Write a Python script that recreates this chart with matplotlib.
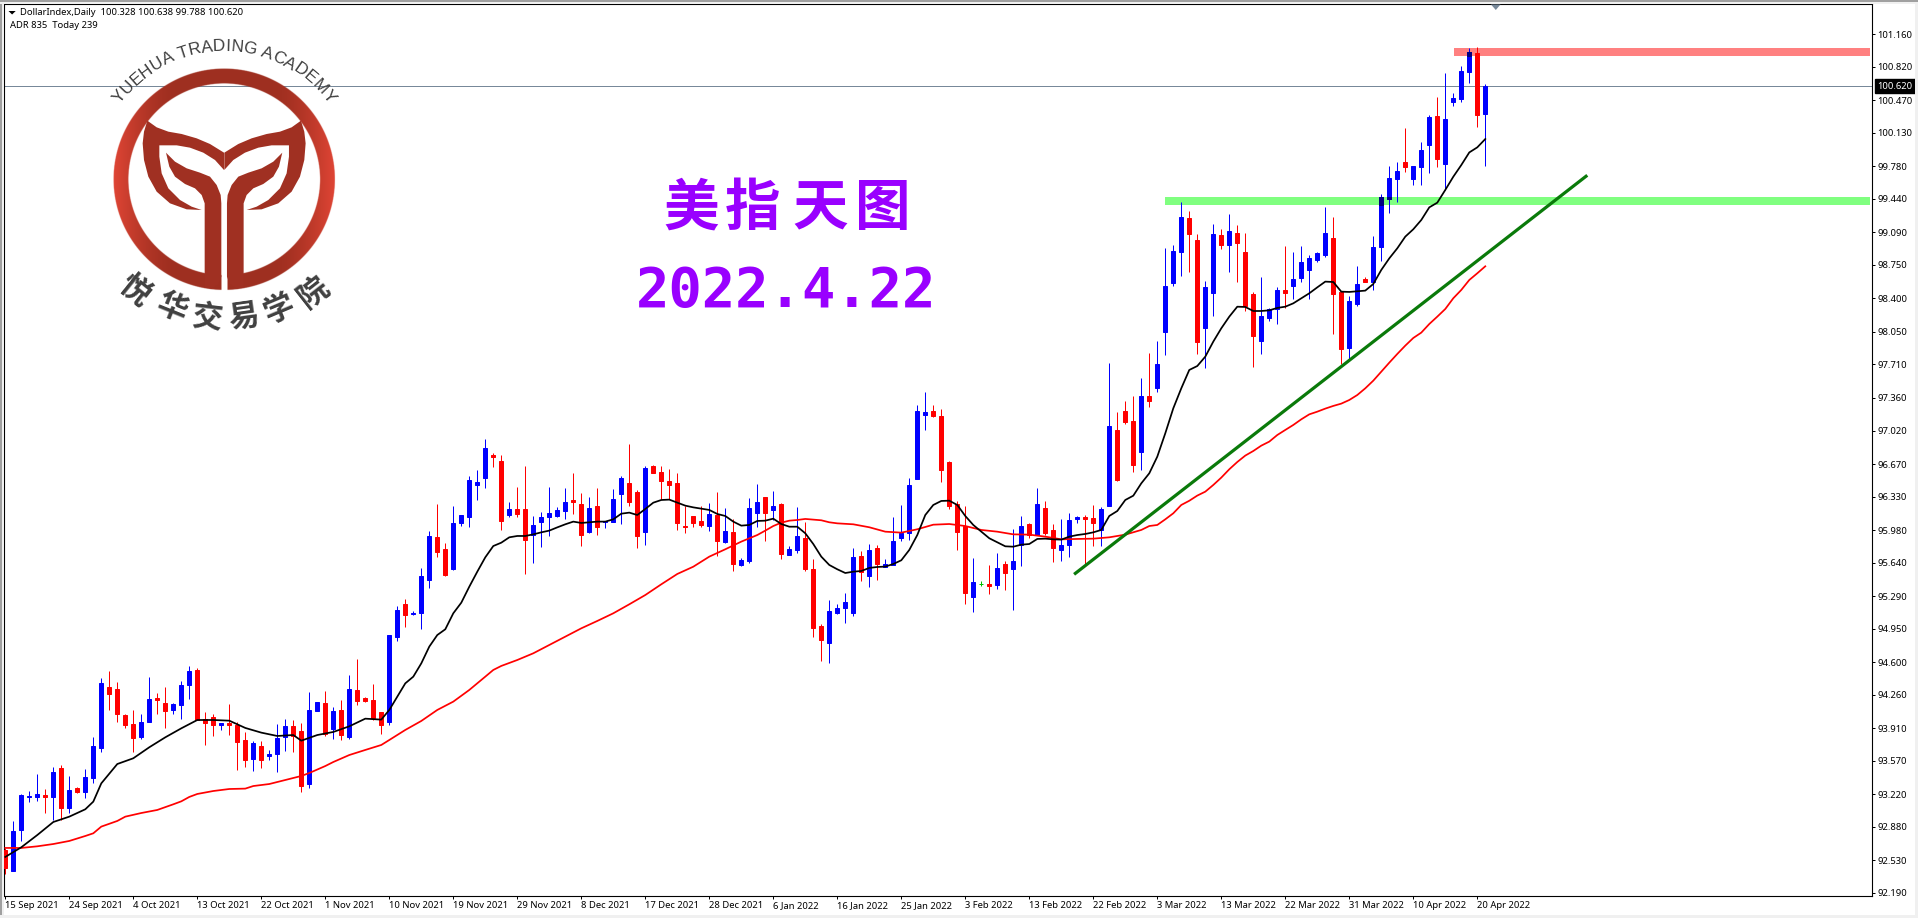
import numpy as np
import matplotlib
matplotlib.use('Agg')
import matplotlib.pyplot as plt
from matplotlib.font_manager import FontProperties
from matplotlib.patches import Polygon, Rectangle
from matplotlib.textpath import TextToPath

opens = [92.637, 92.421, 92.846, 93.194, 93.191, 93.211, 93.191, 93.494, 93.076, 93.285,
         93.243, 93.389, 93.703, 94.340, 94.319, 94.047, 93.953, 93.817, 93.974, 94.225,
         94.173, 94.100, 94.152, 94.361, 94.518, 94.006, 94.026, 93.943, 93.964, 93.943,
         93.786, 93.588, 93.723, 93.619, 93.640, 93.817, 93.932, 93.880, 93.326, 94.089,
         94.173, 93.901, 94.100, 93.817, 94.309, 94.225, 94.204, 94.079, 93.974, 94.862,
         95.207, 95.106, 95.113, 95.458, 95.907, 95.782, 95.573, 96.054, 96.116, 96.451,
         96.524, 96.764, 96.702, 96.137, 96.200, 96.200, 95.928, 96.064, 96.116, 96.127,
         96.179, 96.294, 96.252, 95.960, 96.231, 96.064, 96.064, 96.357, 96.472, 96.378,
         95.960, 96.649, 96.587, 96.493, 96.472, 96.022, 96.127, 96.075, 96.022, 96.137,
         95.855, 95.960, 95.615, 95.657, 96.158, 96.325, 96.190, 96.252, 95.719, 95.772,
         95.897, 95.573, 94.978, 94.800, 95.113, 95.166, 95.113, 95.709, 95.500, 95.793,
         95.594, 95.615, 95.897, 95.949, 96.514, 97.182, 97.224, 97.172, 96.691, 96.252,
         96.022, 95.281, 95.420, 95.416, 95.406, 95.625, 95.573, 95.824, 96.043, 95.928,
         96.211, 95.981, 95.772, 95.824, 96.096, 96.117, 96.106, 95.981, 96.231, 97.026,
         97.224, 97.120, 96.796, 97.381, 97.465, 98.050, 98.562, 98.886, 99.241, 99.011,
         98.092, 98.457, 99.063, 98.959, 99.084, 98.886, 98.447, 97.956, 98.196, 98.290,
         98.489, 98.530, 98.614, 98.698, 98.802, 98.854, 99.032, 98.468, 97.883, 98.342,
         98.604, 98.572, 98.938, 99.439, 99.648, 99.825, 99.648, 99.773, 100.003, 100.306,
         99.804, 100.452, 100.484, 100.766, 100.964, 100.328]

closes = [92.445, 92.835, 93.211, 93.204, 93.222, 93.191, 93.452, 93.076, 93.264, 93.243,
          93.400, 93.723, 94.382, 94.267, 94.058, 93.943, 93.807, 93.974, 94.215, 94.204,
          94.089, 94.162, 94.361, 94.507, 93.995, 93.964, 93.943, 93.964, 93.943, 93.765,
          93.577, 93.755, 93.577, 93.640, 93.807, 93.932, 93.828, 93.305, 94.100, 94.183,
          93.849, 94.089, 93.838, 94.319, 94.194, 94.194, 94.016, 93.943, 94.883, 95.144,
          95.092, 95.117, 95.500, 95.918, 95.751, 95.510, 96.054, 96.137, 96.503, 96.482,
          96.837, 96.743, 96.075, 96.200, 96.148, 95.876, 96.033, 96.116, 96.158, 96.190,
          96.273, 96.273, 95.928, 96.210, 96.012, 96.075, 96.305, 96.524, 96.273, 95.918,
          96.628, 96.576, 96.493, 96.451, 96.054, 96.012, 96.054, 96.033, 96.148, 95.866,
          95.970, 95.625, 95.667, 96.210, 96.273, 96.158, 96.231, 95.730, 95.782, 95.918,
          95.573, 94.957, 94.831, 95.134, 95.166, 95.228, 95.699, 95.542, 95.772, 95.625,
          95.625, 95.866, 95.949, 96.451, 97.224, 97.214, 97.172, 96.608, 96.231, 95.960,
          95.322, 95.437, 95.420, 95.395, 95.584, 95.531, 95.657, 96.022, 95.928, 96.252,
          95.949, 95.793, 95.824, 96.085, 96.117, 96.096, 96.054, 96.200, 97.068, 96.503,
          97.109, 96.660, 97.381, 97.329, 97.715, 98.530, 98.896, 99.251, 99.074, 97.945,
          98.520, 99.074, 98.959, 99.105, 98.980, 98.321, 98.008, 98.217, 98.290, 98.489,
          98.457, 98.604, 98.781, 98.823, 98.875, 99.084, 98.447, 97.872, 98.374, 98.551,
          98.572, 98.938, 99.460, 99.658, 99.731, 99.773, 99.783, 99.951, 100.295, 99.857,
          100.275, 100.494, 100.776, 100.975, 100.316, 100.620]

highs = [92.661, 92.940, 93.222, 93.253, 93.431, 93.274, 93.504, 93.525, 93.410, 93.295,
         93.483, 93.817, 94.434, 94.507, 94.392, 94.058, 94.100, 94.058, 94.444, 94.277,
         94.340, 94.173, 94.403, 94.559, 94.538, 94.079, 94.058, 93.964, 94.162, 93.974,
         93.870, 93.776, 93.776, 93.682, 93.953, 94.006, 93.995, 93.964, 94.288, 94.183,
         94.298, 94.131, 94.204, 94.465, 94.632, 94.235, 94.371, 94.079, 94.883, 95.186,
         95.260, 95.134, 95.584, 95.970, 96.252, 95.845, 96.231, 96.137, 96.545, 96.608,
         96.931, 96.785, 96.764, 96.273, 96.430, 96.649, 96.127, 96.169, 96.430, 96.221,
         96.419, 96.576, 96.367, 96.325, 96.419, 96.075, 96.409, 96.545, 96.879, 96.399,
         96.649, 96.660, 96.649, 96.618, 96.576, 96.231, 96.127, 96.231, 96.263, 96.378,
         96.210, 96.096, 95.688, 96.315, 96.461, 96.325, 96.388, 96.263, 95.813, 96.221,
         96.064, 95.678, 94.998, 95.249, 95.207, 95.322, 95.793, 95.761, 95.834, 95.824,
         95.678, 96.117, 96.242, 96.524, 97.287, 97.423, 97.287, 97.245, 96.702, 96.284,
         96.231, 95.688, 95.448, 95.615, 95.740, 95.657, 95.991, 96.127, 96.054, 96.420,
         96.284, 96.043, 96.096, 96.158, 96.127, 96.137, 96.242, 96.221, 97.726, 97.214,
         97.329, 97.381, 97.569, 97.830, 97.956, 98.927, 98.959, 99.408, 99.314, 99.074,
         98.583, 99.178, 99.126, 99.283, 99.168, 99.084, 98.468, 98.624, 98.301, 98.520,
         98.948, 98.886, 98.948, 98.854, 98.886, 99.356, 99.251, 98.468, 98.426, 98.739,
         98.624, 99.053, 99.492, 99.783, 99.825, 100.181, 99.783, 100.034, 100.316, 100.504,
         100.755, 100.546, 100.828, 101.016, 101.027, 100.638]

lows = [92.386, 92.421, 92.731, 93.142, 93.149, 93.023, 92.950, 92.950, 93.023, 93.232,
        93.180, 93.337, 93.661, 94.100, 93.974, 93.912, 93.661, 93.797, 93.974, 94.058,
        93.912, 94.058, 94.006, 94.215, 93.995, 93.734, 93.828, 93.891, 93.838, 93.473,
        93.504, 93.462, 93.494, 93.577, 93.452, 93.671, 93.661, 93.243, 93.285, 94.089,
        93.828, 93.797, 93.786, 93.797, 94.152, 94.183, 93.995, 93.849, 93.943, 94.821,
        94.967, 95.092, 94.946, 95.375, 95.699, 95.500, 95.563, 96.022, 96.012, 96.294,
        96.419, 96.639, 95.981, 96.116, 96.116, 95.521, 95.636, 95.803, 95.918, 96.116,
        96.096, 96.148, 95.813, 95.949, 95.928, 96.002, 96.064, 96.043, 96.231, 95.793,
        95.824, 96.576, 96.305, 96.305, 95.981, 95.949, 96.012, 96.012, 95.970, 95.709,
        95.845, 95.552, 95.604, 95.636, 96.012, 95.866, 96.085, 95.678, 95.719, 95.740,
        95.552, 94.863, 94.612, 94.591, 95.103, 95.009, 95.082, 95.448, 95.385, 95.458,
        95.594, 95.615, 95.866, 95.876, 96.514, 97.026, 97.161, 96.482, 96.200, 95.772,
        95.207, 95.124, 95.395, 95.312, 95.364, 95.354, 95.145, 95.604, 95.897, 95.928,
        95.928, 95.646, 95.657, 95.699, 96.054, 95.625, 95.813, 95.813, 96.231, 96.493,
        97.088, 96.587, 96.608, 97.266, 97.423, 97.809, 98.530, 98.635, 98.677, 97.820,
        97.674, 98.217, 98.917, 98.677, 98.572, 98.269, 97.684, 97.820, 98.165, 98.133,
        98.301, 98.395, 98.572, 98.395, 98.781, 98.833, 98.029, 97.715, 97.768, 98.321,
        98.572, 98.489, 98.792, 99.292, 99.407, 99.721, 99.585, 99.585, 99.710, 99.773,
        99.533, 100.410, 100.452, 100.651, 100.191, 99.788]

black_idx = [0, 2, 4, 6, 8, 10, 11, 12, 14, 16, 18, 20, 22, 24, 26, 28, 30, 32, 34, 36, 37,
             39, 41, 43, 45, 47, 48] + list(range(50, 186))
black_ma = [92.564, 92.665, 92.793, 92.929, 92.985, 93.062, 93.142, 93.333, 93.535, 93.595,
            93.710, 93.814, 93.908, 93.995, 93.995, 93.988, 93.912, 93.863, 93.828, 93.838,
            93.779, 93.838, 93.870, 93.929, 94.009, 93.999, 94.100,
            94.378, 94.448, 94.587, 94.762, 94.883, 94.943, 95.110, 95.221, 95.388, 95.545,
            95.695, 95.813, 95.848, 95.904, 95.918, 95.918, 95.935, 95.956, 95.974, 96.008,
            96.040, 96.068, 96.054, 96.061, 96.068, 96.068, 96.092, 96.151, 96.162, 96.137,
            96.200, 96.266, 96.294, 96.298, 96.266, 96.235, 96.217, 96.204, 96.190, 96.148,
            96.127, 96.068, 96.026, 96.033, 96.075, 96.078, 96.099, 96.043, 96.015, 96.015,
            95.946, 95.834, 95.702, 95.615, 95.570, 95.531, 95.545, 95.552, 95.584, 95.594,
            95.598, 95.625, 95.664, 95.772, 95.928, 96.137, 96.242, 96.284, 96.287, 96.242,
            96.127, 96.033, 95.963, 95.894, 95.852, 95.810, 95.806, 95.827, 95.834, 95.887,
            95.890, 95.883, 95.880, 95.911, 95.928, 95.939, 95.956, 95.981, 96.127, 96.179,
            96.294, 96.339, 96.468, 96.573, 96.747, 96.991, 97.252, 97.461, 97.653, 97.694,
            97.792, 97.949, 98.088, 98.210, 98.314, 98.311, 98.269, 98.269, 98.276, 98.301,
            98.314, 98.349, 98.402, 98.454, 98.516, 98.576, 98.572, 98.471, 98.468, 98.475,
            98.482, 98.551, 98.698, 98.819, 98.924, 99.046, 99.123, 99.220, 99.352, 99.401,
            99.534, 99.672, 99.794, 99.926, 99.979, 100.066]

red_idx = [0, 2, 4, 6, 8, 10, 11, 12, 14, 15, 17, 19, 21, 22, 23, 24, 26, 28, 30, 31, 33, 35,
           37, 38, 40, 41, 43, 45, 47, 48, 50, 52, 54, 56, 58, 60, 61, 62, 64, 66, 68, 70, 72,
           74, 76, 78, 80, 82, 84, 86, 88, 90, 92, 94, 95, 96, 97, 98, 99, 100, 101, 102, 103,
           104, 106, 108, 110, 112, 114, 116, 118, 120, 122, 124, 126, 128, 130, 132, 134,
           136, 138, 140, 142, 143] + list(range(144, 186))
red_ma = [92.658, 92.658, 92.675, 92.699, 92.731, 92.783, 92.811, 92.881, 92.940, 92.985,
          93.023, 93.055, 93.114, 93.145, 93.191, 93.222, 93.253, 93.274, 93.278, 93.305,
          93.326, 93.368, 93.410, 93.441, 93.514, 93.556, 93.629, 93.682, 93.734, 93.786,
          93.891, 93.985, 94.100, 94.187, 94.309, 94.448, 94.518, 94.560, 94.622, 94.692,
          94.779, 94.866, 94.953, 95.030, 95.110, 95.204, 95.301, 95.413, 95.521, 95.597,
          95.702, 95.779, 95.859, 95.928, 95.974, 96.022, 96.057, 96.078, 96.085, 96.096,
          96.089, 96.082, 96.061, 96.050, 96.040, 96.009, 95.963, 95.953, 95.988, 96.036,
          96.043, 96.022, 95.981, 95.963, 95.935, 95.932, 95.911, 95.883, 95.887, 95.890,
          95.904, 95.932, 95.981, 96.022,
          96.033, 96.092, 96.155, 96.242, 96.286, 96.340, 96.381, 96.451, 96.528, 96.615,
          96.691, 96.758, 96.806, 96.862, 96.904, 96.973, 97.026, 97.078, 97.137, 97.189,
          97.217, 97.249, 97.277, 97.301, 97.339, 97.391, 97.461, 97.541, 97.635, 97.729,
          97.820, 97.907, 97.987, 98.043, 98.133, 98.210, 98.290, 98.402, 98.489, 98.593,
          98.663, 98.736]

date_labels = ['15 Sep 2021', '24 Sep 2021', '4 Oct 2021', '13 Oct 2021', '22 Oct 2021',
               '1 Nov 2021', '10 Nov 2021', '19 Nov 2021', '29 Nov 2021', '8 Dec 2021',
               '17 Dec 2021', '28 Dec 2021', '6 Jan 2022', '16 Jan 2022', '25 Jan 2022',
               '3 Feb 2022', '13 Feb 2022', '22 Feb 2022', '3 Mar 2022', '13 Mar 2022',
               '22 Mar 2022', '31 Mar 2022', '10 Apr 2022', '20 Apr 2022']
price_ticks = [101.160, 100.820, 100.470, 100.130, 99.780, 99.440, 99.090, 98.750, 98.400,
               98.050, 97.710, 97.360, 97.020, 96.670, 96.330, 95.980, 95.640, 95.290, 94.950,
               94.600, 94.260, 93.910, 93.570, 93.220, 92.880, 92.530, 92.190]

# zones and trend line, bar index / price
green_zone = (145.0, 99.376, 99.460)
red_zone = (181.1, 100.933, 101.017)
trend_x = [133.6, 197.75]
trend_y = [95.517, 99.687]

W, H = 1918, 918
UI = 'Noto Sans'
CJK = 'Noto Sans CJK SC'
PURPLE = '#9900FF'
GREY = '#404040'

fig = plt.figure(figsize=(W / 100, H / 100), dpi=100, facecolor='white')
ax = fig.add_axes([4 / W, (H - 895.6) / H, 1868 / W, 891.6 / H])
ax.set_xlim(-0.1625, 233.34)
ax.set_ylim(92.16, 101.477)

x = np.arange(len(opens))
o = np.array(opens)
c = np.array(closes)
colors = ['#00C000' if a == b else ('#0000FF' if b > a else '#FF0000') for a, b in zip(o, c)]

for left, low, high, col in [(green_zone[0], green_zone[1], green_zone[2], '#80FF80'),
                             (red_zone[0], red_zone[1], red_zone[2], '#FF8080')]:
    ax.add_patch(Rectangle((left, low), 233.1 - left, high - low, color=col, lw=0, zorder=1))

ax.vlines(x, lows, highs, colors=colors, lw=0.72, zorder=2)
ax.bar(x, np.abs(c - o), bottom=np.minimum(o, c), width=0.5, color=colors, edgecolor=colors,
       linewidth=0.72, zorder=3)

# blue bodies turn navy where they cross a zone
for left, low, high in [green_zone, red_zone]:
    for i in x:
        if c[i] > o[i] and i >= left:
            bot = max(o[i], low)
            top = min(c[i], high)
            if top > bot:
                ax.bar(i, top - bot, bottom=bot, width=0.5, color='#000080', edgecolor='#000080',
                       linewidth=0.72, zorder=3.5)

ax.plot(red_idx, red_ma, color='#FF0000', lw=1.25, zorder=4)
ax.plot(black_idx, black_ma, color='#000000', lw=1.25, zorder=5)
ax.plot(trend_x, trend_y, color='#0A7A0A', lw=2.3, zorder=6, solid_capstyle='butt')
ax.axhline(closes[-1], color='#778899', lw=0.72, zorder=1.5)

ax.yaxis.tick_right()
ax.set_yticks(price_ticks)
ax.set_yticklabels(['%.3f' % p for p in price_ticks], fontsize=6.8, family=UI)
ax.set_xticks(np.arange(len(date_labels)) * 8)
ax.set_xticklabels(date_labels, fontsize=6.8, family=UI, ha='left')
ax.tick_params(axis='both', length=2.4, width=0.72, pad=1.6, color='black')
for s in ax.spines.values():
    s.set_linewidth(0.8)
    s.set_color('black')

ax.text(1.0029, closes[-1], '%.3f' % closes[-1], transform=ax.get_yaxis_transform(), color='white',
        fontsize=6.8, family=UI, va='center', ha='left', zorder=10, clip_on=False,
        bbox=dict(facecolor='black', edgecolor='black', pad=1.6))

# overlay in image pixels for header, logo and captions
ov = fig.add_axes([0, 0, 1, 1], zorder=5)
ov.patch.set_alpha(0)

# window edge
ov.add_patch(Rectangle((0, 0), W, 2, color='#A0A0A0', lw=0))
ov.add_patch(Rectangle((0, 0), 1.5, H, color='#A0A0A0', lw=0))
ov.add_patch(Rectangle((0, 2), W, 2, color='#F0F0F0', lw=0))
ov.add_patch(Rectangle((1.5, 2), 2.5, H, color='#F0F0F0', lw=0))
ov.add_patch(Rectangle((1915, 2), 3, H, color='#F0F0F0', lw=0))
ov.add_patch(Rectangle((0, 915), W, 3, color='#F0F0F0', lw=0))

ov.add_patch(Polygon([(8.5, 11), (15.7, 11), (12.1, 14.5)], color='black', lw=0))
ov.text(20.3, 12.7, 'DollarIndex,Daily  100.328 100.638 99.788 100.620', fontsize=6.8, family=UI,
        va='center', ha='left')
ov.text(9.7, 25.7, 'ADR 835  Today 239', fontsize=6.8, family=UI, va='center', ha='left')
ov.add_patch(Polygon([(1491, 4.5), (1500.5, 4.5), (1495.8, 10)], color='#778899', lw=0))

# logo ring with its horizontal gradient
cx, cy = 224.0, 178.7
gx, gy = np.meshgrid(np.arange(cx - 115, cx + 115, 0.5), np.arange(cy - 115, cy + 115, 0.5))
rr = np.hypot(gx - cx, gy - cy)
t = np.clip((np.abs(gx - cx) / 111 - 0.45) / 0.55, 0, 1) ** 1.5
dark = np.array([0x9F, 0x2F, 0x20]) / 255
bright = np.array([0xE0, 0x45, 0x35]) / 255
ring = np.zeros(gx.shape + (4,))
for k in range(3):
    ring[..., k] = dark[k] + (bright[k] - dark[k]) * t
ring[..., 3] = np.clip((111 - rr) * 1.5, 0, 1) * np.clip((rr - 95.5) * 1.5, 0, 1)
ring[(np.abs(gx - cx - 0.3) < 3) & (gy > cy), 3] = 0
ov.imshow(ring, extent=(cx - 115, cx + 115, cy + 115, cy - 115), aspect='auto', zorder=2)

wing = [(442, 362), (470, 382), (505, 395), (545, 402), (590, 415), (630, 432), (672, 458),
        (672, 510), (645, 480), (610, 458), (570, 443), (530, 436), (478, 436), (478, 470),
        (485, 520), (505, 565), (540, 600), (575, 620), (605, 630), (560, 628), (510, 610),
        (470, 575), (445, 530), (432, 480), (428, 430), (432, 395)]
stem = [(498, 458), (525, 485), (560, 505), (600, 518), (630, 530), (650, 555), (662, 585),
        (664, 610), (664, 830), (655, 852), (635, 866), (614, 862), (614, 815), (614, 610),
        (605, 585), (585, 565), (555, 552), (525, 530), (508, 500)]
for shape in (wing, stem):
    pts = np.array(shape, dtype=float) / 3
    mirrored = pts.copy()
    mirrored[:, 0] = 448.3 - pts[:, 0]
    ov.add_patch(Polygon(pts, color='#A03022', lw=0, zorder=3))
    ov.add_patch(Polygon(mirrored, color='#A03022', lw=0, zorder=3))

# academy name along the top arc
arc_text = 'YUEHUA TRADING ACADEMY'
arc_prop = FontProperties(family='Liberation Sans', size=12.4)
ttp = TextToPath()
widths = [ttp.get_text_width_height_descent(ch, arc_prop, False)[0] for ch in arc_text]
total = sum(widths)
pos = 0.0
for ch, w in zip(arc_text, widths):
    ang = np.radians(-54.5 + 109 * (pos + w / 2) / total)
    ov.text(cx + 128 * np.sin(ang), cy - 128 * np.cos(ang), ch, fontproperties=arc_prop, color=GREY,
            rotation=-np.degrees(ang), rotation_mode='anchor', ha='center', va='baseline', zorder=4)
    pos += w

# chinese name along the bottom arc
for ch, px, py, rot in [('悦', 135, 290, -38.7), ('华', 171.7, 307.3, -22), ('交', 207.3, 318.3, -6.8),
                        ('易', 244, 318.3, 8), ('学', 279, 309.3, 22.8), ('院', 313.3, 291.7, 38)]:
    ov.text(px, py, ch, family=CJK, weight='bold', fontsize=22, color=GREY, rotation=rot,
            rotation_mode='anchor', ha='center', va='center', zorder=4)

# captions
for ch, px in zip('美指天图', [690.7, 753, 820, 883]):
    ov.text(px, 209, ch, family=CJK, weight='bold', fontsize=40, color=PURPLE, ha='center', va='center')
ov.text(785.8, 292, '2022.4.22', family='DejaVu Sans Mono', weight='bold', fontsize=40, color=PURPLE,
        ha='center', va='center')

ov.set_xlim(0, W)
ov.set_ylim(H, 0)
ov.axis('off')

fig.savefig('out.png', dpi=100)
plt.close()
